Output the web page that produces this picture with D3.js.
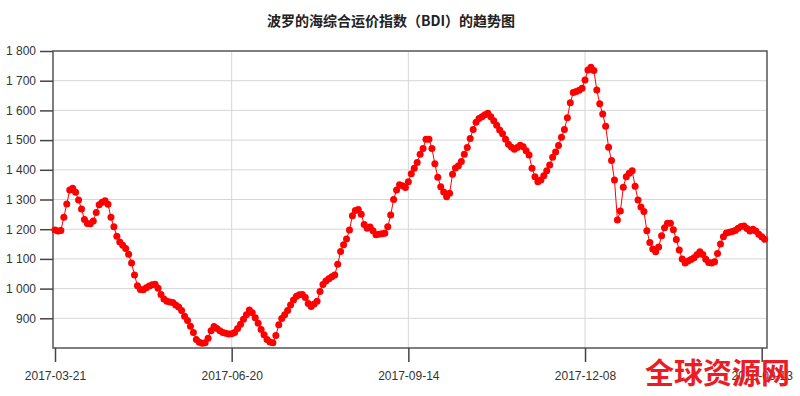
<!DOCTYPE html>
<html>
<head>
<meta charset="utf-8">
<script src="https://cdn.jsdelivr.net/npm/d3@7"></script>
<style>
  body { margin: 0; background: #fff; }
  text { font-family: "Liberation Sans", Arial, sans-serif; }
</style>
</head>
<body>
<div id="chart"></div>
<script>
// BDI daily values (one per trading day)
const bdiValues = [
  1197, 1194, 1196, 1240, 1285, 1332, 1338, 1324, 1298, 1268,
  1233, 1219, 1218, 1228, 1256, 1282, 1291, 1296, 1284, 1240,
  1208, 1176, 1157, 1146, 1135, 1116, 1086, 1046, 1010, 997,
  996, 1003, 1009, 1013, 1015, 1001, 980, 965, 957, 955,
  953, 945, 938, 926, 907, 893, 873, 852, 829, 819,
  816, 818, 833, 858, 872, 866, 858, 852, 850, 847,
  848, 852, 866, 880, 897, 912, 928, 919, 902, 883,
  862, 845, 829, 820, 818, 842, 878, 899, 912, 926,
  945, 962, 974, 979, 980, 970, 950, 940, 948, 957,
  990, 1014, 1026, 1033, 1040, 1046, 1082, 1125, 1148, 1167,
  1197, 1245, 1263, 1266, 1250, 1216, 1203, 1207, 1195, 1181,
  1183, 1185, 1186, 1208, 1248, 1300, 1332, 1350, 1346, 1340,
  1360, 1387, 1405, 1425, 1452, 1472, 1503, 1503, 1472, 1420,
  1375, 1343, 1325, 1309, 1321, 1385, 1406, 1414, 1428, 1452,
  1475, 1505, 1536, 1560, 1573, 1579, 1585, 1590, 1579, 1565,
  1550, 1534, 1521, 1503, 1486, 1476, 1469, 1475, 1483, 1478,
  1464, 1450, 1405, 1377, 1360, 1366, 1380, 1397, 1416, 1442,
  1460, 1482, 1510, 1536, 1575, 1626, 1660, 1664, 1668, 1675,
  1702, 1736, 1745, 1734, 1669, 1622, 1588, 1547, 1476, 1431,
  1366, 1231, 1261, 1341, 1377, 1388, 1397, 1345, 1298, 1275,
  1260, 1195, 1155, 1133, 1124, 1140, 1178, 1205, 1220, 1220,
  1198, 1165, 1130, 1100, 1086, 1093, 1098, 1104, 1114, 1124,
  1115, 1099, 1088, 1086, 1090, 1118, 1150, 1175, 1187, 1190,
  1192, 1196, 1203, 1209, 1211, 1202, 1194, 1200, 1194, 1183,
  1175, 1166
];

// x axis: tick positions (observation index) and their date labels
const xTickIndex = [0, 60, 120, 180, 240];
const xTickLabels = ["2017-03-21", "2017-06-20", "2017-09-14", "2017-12-08", "2018-03-13"];

// y axis ticks
const yTickValues = [900, 1000, 1100, 1200, 1300, 1400, 1500, 1600, 1700, 1800];

const titleText = "波罗的海综合运价指数（BDI）的趋势图";
const watermarkText = "全球资源网";

(function () {
  const width = 800;
  const height = 396;
  const plot = { left: 53, right: 767, top: 51, bottom: 348 };

  const svg = d3.select("#chart")
    .append("svg")
    .attr("width", width)
    .attr("height", height);

  const x = d3.scaleLinear().domain([0, 240]).range([55, 761.7]);
  const y = d3.scaleLinear().domain([800, 1800]).range([plot.bottom, plot.top]);

  // thousands separated by a space: "1 800"
  const fmt = d3.formatLocale({ decimal: ".", thousands: " ", grouping: [3], currency: ["", ""] }).format(",");

  // horizontal grid
  svg.append("g")
    .selectAll("line")
    .data(yTickValues.filter((d) => d < 1800))
    .join("line")
    .attr("x1", plot.left)
    .attr("x2", plot.right)
    .attr("y1", (d) => y(d))
    .attr("y2", (d) => y(d))
    .attr("stroke", "#d6d6d6")
    .attr("stroke-width", 1);

  // vertical grid
  svg.append("g")
    .selectAll("line")
    .data(xTickIndex.slice(1, -1))
    .join("line")
    .attr("x1", (d) => x(d))
    .attr("x2", (d) => x(d))
    .attr("y1", plot.top)
    .attr("y2", plot.bottom)
    .attr("stroke", "#d6d6d6")
    .attr("stroke-width", 1);

  // frame
  svg.append("rect")
    .attr("x", plot.left)
    .attr("y", plot.top)
    .attr("width", plot.right - plot.left)
    .attr("height", plot.bottom - plot.top)
    .attr("fill", "none")
    .attr("stroke", "#555")
    .attr("stroke-width", 1.5);

  // y axis
  const yAxis = svg.append("g")
    .attr("transform", `translate(${plot.left},0)`)
    .call(d3.axisLeft(y).tickValues(yTickValues).tickFormat(fmt).tickSize(13).tickPadding(4));
  yAxis.select(".domain").remove();
  yAxis.selectAll(".tick line").attr("stroke", "#444").attr("stroke-width", 1.5);
  yAxis.selectAll(".tick text")
    .attr("fill", "#333")
    .style("font-size", "12px")
    .style("font-family", "'Liberation Sans', Arial, sans-serif");

  // x axis
  const xAxis = svg.append("g")
    .attr("transform", `translate(0,${plot.bottom})`)
    .call(d3.axisBottom(x).tickValues(xTickIndex)
      .tickFormat((d, i) => xTickLabels[i]).tickSize(14).tickPadding(9));
  xAxis.select(".domain").remove();
  xAxis.selectAll(".tick line").attr("stroke", "#444").attr("stroke-width", 1.5);
  xAxis.selectAll(".tick text")
    .attr("fill", "#333")
    .style("font-size", "12px")
    .style("font-family", "'Liberation Sans', Arial, sans-serif");

  // line + markers
  const line = d3.line()
    .x((d, i) => x(i))
    .y((d) => y(d));

  svg.append("path")
    .datum(bdiValues)
    .attr("d", line)
    .attr("fill", "none")
    .attr("stroke", "#ff0000")
    .attr("stroke-width", 1);

  svg.append("g")
    .selectAll("circle")
    .data(bdiValues)
    .join("circle")
    .attr("cx", (d, i) => x(i))
    .attr("cy", (d) => y(d))
    .attr("r", 3.5)
    .attr("fill", "#ff0000");

  // title
  svg.append("text")
    .attr("x", 391)
    .attr("y", 26)
    .attr("text-anchor", "middle")
    .style("font-family", "'Noto Sans CJK SC', sans-serif")
    .style("font-size", "14px")
    .style("font-weight", "bold")
    .attr("fill", "#222")
    .text(titleText);

  // watermark from the source picture
  svg.append("text")
    .attr("x", 645)
    .attr("y", 384)
    .style("font-family", "'Noto Sans CJK SC', sans-serif")
    .style("font-size", "29px")
    .style("font-weight", "bold")
    .attr("fill", "#ec1c24")
    .text(watermarkText);
})();
</script>
</body>
</html>
